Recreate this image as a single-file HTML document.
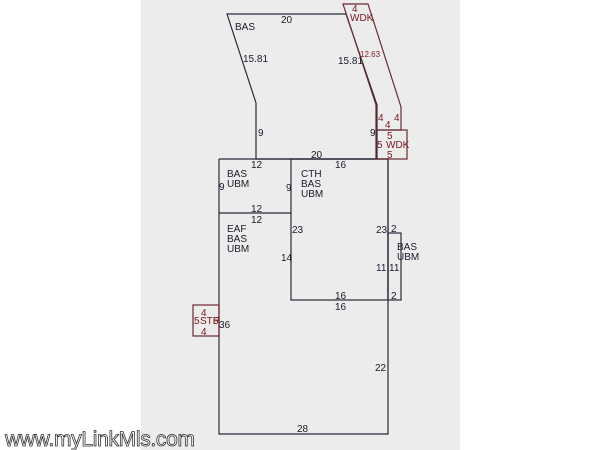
<!DOCTYPE html>
<html><head><meta charset="utf-8"><style>
html,body{margin:0;padding:0;background:#fff;}
svg{display:block;}
text{font-family:"Liberation Sans",sans-serif;font-size:10px;fill:#1a1a2a;}
.r{fill:#7a1a22;}
</style></head><body>
<svg width="600" height="450" viewBox="0 0 600 450">
<rect x="0" y="0" width="600" height="450" fill="#fff"/>
<rect x="141" y="0" width="319" height="450" fill="#ececec"/>
<g fill="none" stroke="#2a2a3a" stroke-width="1.2">
<polygon points="227,14 346,14 377,105 377,159 256,159 256,103"/>
<polyline points="219,159 388,159 388,434 219,434 219,159"/>
<rect x="291" y="159" width="97" height="141"/>
<line x1="219" y1="213" x2="291" y2="213"/>
<rect x="388" y="233" width="13" height="67"/>
</g>
<g fill="none" stroke="#6a2a30" stroke-width="1.2">
<polygon points="343,4 368,4 401,107 401,130 376,130 376,105"/>
<rect x="376" y="130" width="31" height="29"/>
<rect x="193" y="305" width="26" height="31"/>
</g>
<text x="235" y="30">BAS</text>
<text x="281" y="23">20</text>
<text x="243" y="62">15.81</text>
<text x="338" y="64">15.81</text>
<text x="258" y="136">9</text>
<text x="370" y="136">9</text>
<text x="311" y="158">20</text>
<text x="352" y="12" class="r">4</text>
<text x="350" y="21" class="r">WDK</text>
<text x="360" y="57" class="r" style="font-size:8px">12.63</text>
<text x="378" y="121" class="r">4</text>
<text x="385" y="128" class="r">4</text>
<text x="394" y="121" class="r">4</text>
<text x="387" y="139" class="r">5</text>
<text x="377" y="148" class="r">5</text>
<text x="386" y="148" class="r">WDK</text>
<text x="387" y="158" class="r">5</text>
<text x="251" y="168">12</text>
<text x="227" y="177">BAS</text>
<text x="227" y="187">UBM</text>
<text x="219" y="190">9</text>
<text x="286" y="191">9</text>
<text x="335" y="168">16</text>
<text x="301" y="177">CTH</text>
<text x="301" y="187">BAS</text>
<text x="301" y="197">UBM</text>
<text x="251" y="212">12</text>
<text x="251" y="223">12</text>
<text x="227" y="232">EAF</text>
<text x="227" y="242">BAS</text>
<text x="227" y="252">UBM</text>
<text x="292" y="233">23</text>
<text x="281" y="261">14</text>
<text x="376" y="233">23</text>
<text x="391" y="232">2</text>
<text x="397" y="250">BAS</text>
<text x="397" y="260">UBM</text>
<text x="376" y="271">11</text>
<text x="389" y="271">11</text>
<text x="335" y="299">16</text>
<text x="391" y="299">2</text>
<text x="335" y="310">16</text>
<text x="201" y="316" class="r">4</text>
<text x="194" y="324" class="r">5</text>
<text x="200" y="324" class="r">STP</text>
<text x="213" y="324" class="r">5</text>
<text x="219" y="328">36</text>
<text x="201" y="335" class="r">4</text>
<text x="375" y="371">22</text>
<text x="297" y="432">28</text>
<text x="5" y="446" textLength="190" style="font-size:21px;fill:#fff;stroke:#333;stroke-width:0.8">www.myLinkMls.com</text>
</svg>
</body></html>
